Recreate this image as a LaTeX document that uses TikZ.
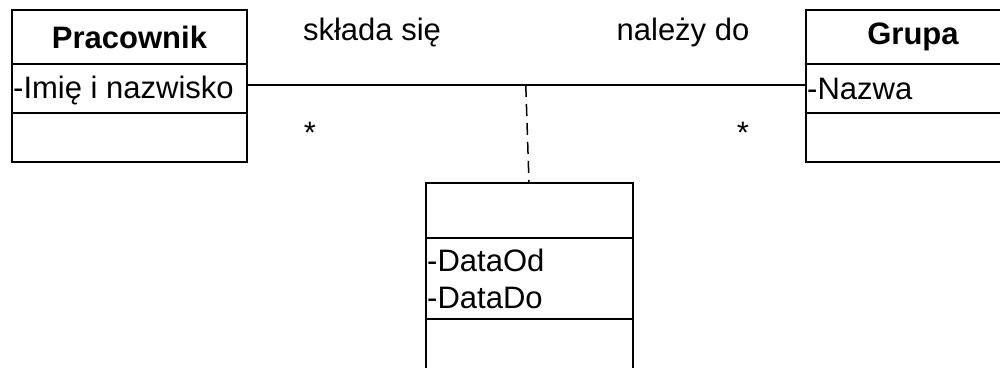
\documentclass[tikz,border=0pt]{standalone}
\usepackage{fontspec}
\setmainfont{Liberation Sans}
\begin{document}
\begin{tikzpicture}[x=1pt,y=-1pt,
  txt/.style={font=\fontsize{31}{37}\selectfont, inner sep=0pt},
  part/.style={draw, line width=2.4pt, minimum width=#1, inner sep=0pt, outer sep=0pt},
  cls/.style={font=\fontsize{31}{37}\selectfont\bfseries},
  assoc/.style={line width=1.5pt},
  linkline/.style={line width=1.5pt, dash pattern=on 12pt off 7pt}]
\useasboundingbox (0,0) rectangle (1000,367);
\clip (0,0) rectangle (1000,367);
% class Pracownik
\node[part=235pt, minimum height=54pt, anchor=north west, cls] (ph) at (12,10) {Pracownik};
\node[part=235pt, minimum height=49pt, anchor=north west] (pa) at (12,64) {};
\node[part=235pt, minimum height=49pt, anchor=north west] (po) at (12,113) {};
\node[txt, anchor=west] (pat) at ([xshift=1pt,yshift=-1.5pt]pa.west) {-Imię i nazwisko};
% class Grupa
\node[part=214pt, minimum height=54pt, anchor=north west, cls] (gh) at (806,10) {Grupa};
\node[part=214pt, minimum height=49pt, anchor=north west] (ga) at (806,64) {};
\node[part=214pt, minimum height=49pt, anchor=north west] (go) at (806,113) {};
\node[txt, anchor=west] (gat) at ([xshift=1pt]ga.west) {-Nazwa};
% association class
\node[part=207pt, minimum height=55pt, anchor=north west] (mh) at (426,183) {};
\node[part=207pt, minimum height=81pt, anchor=north west] (ma) at (426,238) {};
\node[part=207pt, minimum height=54pt, anchor=north west] (mo) at (426,319) {};
\node[txt, anchor=west, align=left] (mat) at ([xshift=1pt]ma.west) {-DataOd\\-DataDo};
% association
\draw[assoc] ([yshift=3.5pt]pa.east) -- ([yshift=3.5pt]ga.west)
  coordinate[pos=0.4987] (mid);
\coordinate (mtop) at ([xshift=-0.5pt]mh.north);
\draw[linkline] (mid) -- (mtop);
% labels
\node[txt] (l1) at (372,32) {składa się};
\node[txt] (l2) at (683,32) {należy do};
\node[txt] (m1) at (310,133) {*};
\node[txt] (m2) at (743,133) {*};
\end{tikzpicture}
\end{document}
